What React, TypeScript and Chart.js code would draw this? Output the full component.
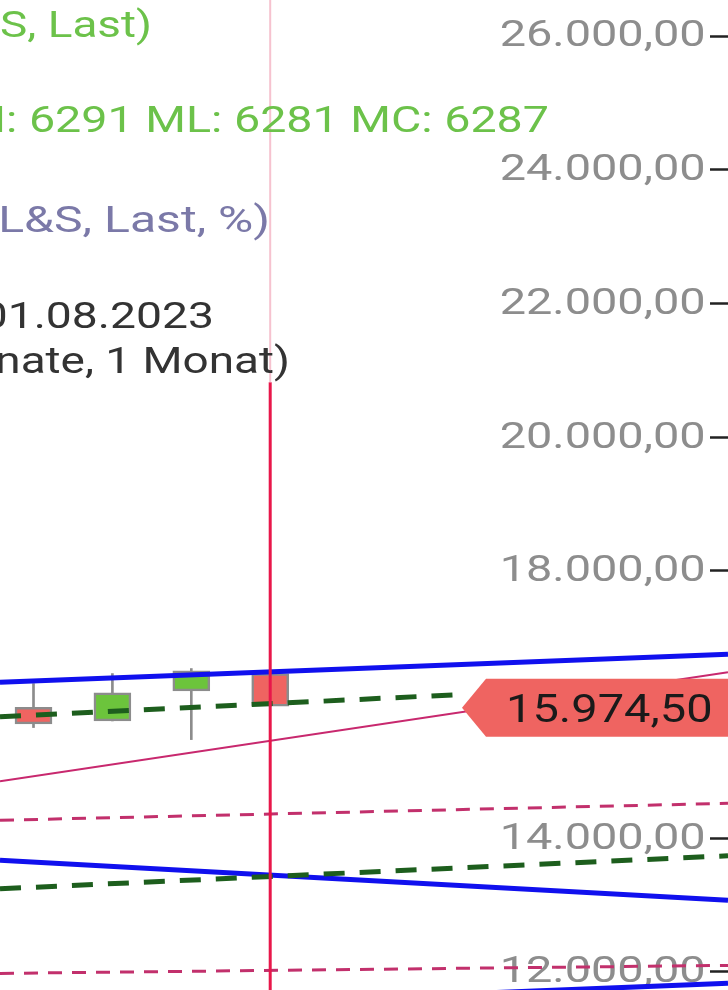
import React, { useEffect, useRef } from "react";
import { Chart, registerables } from "chart.js";

Chart.register(...registerables);

// ---- data (candle index on x, price on y) ----
const CANDLE_X = [0, 1, 2, 3];
const CANDLE_OPEN = [15960, 15755, 16204, 16464];
const CANDLE_HIGH = [16314, 16464, 16539, 16464];
const CANDLE_LOW = [15656, 15755, 15476, 15974.5];
const CANDLE_CLOSE = [15711, 16174, 16503, 15974.5];
const LAST_PRICE = 15974.5;

const X_VIEW = [-0.4246, 8.574];
const LINE_X = [-0.4246, 8.802];
const GREEN_DASH_UPPER_X = [-0.4246, 5.469];

const BLUE_UPPER = [16334, 16753];
const BLUE_MIDDLE = [13670, 13072];
const BLUE_LOWER = [11400, 11830];
const GREEN_DASH_UPPER = [15817, 16154];
const GREEN_DASH_LOWER = [13245, 13739];
const PINK_LINE = [14852, 16483];
const PINK_DASH_UPPER = [14269, 14523];
const PINK_DASH_LOWER = [11979, 12099];

const CROSSHAIR_X = 3;
const CROSSHAIR_SPLIT = 20823;

const Y_VIEW = [11730.7, 26538.7];
const Y_TICKS = [12000, 14000, 16000, 18000, 20000, 22000, 24000, 26000];

const INFO_TEXTS = [
  "S, Last)",
  "H: 6291 ML: 6281 MC: 6287",
  "L&S, Last, %)",
  "01.08.2023",
  "nate, 1 Monat)",
];
const INFO_COLORS = ["#6cc24a", "#6cc24a", "#7b79a8", "#333333", "#333333"];
const INFO_RIGHT = [152, 549, 270, 214, 290];
const INFO_BASELINE = [37, 132, 232, 328, 373];
const INFO_STRETCH = [1.24, 1.26, 1.3, 1.25, 1.24];

// ---- helpers ----
function fmtDE(v: number): string {
  const [i, d] = v.toFixed(2).split(".");
  return i.replace(/\B(?=(\d{3})+(?!\d))/g, ".") + "," + d;
}

function seg(xs: number[], ys: number[]) {
  return xs.map((x, i) => ({ x, y: ys[i] }));
}

const RED = "#ef6461";
const GREEN = "#6cc43c";
const CANDLE_BORDER = "#8c8c8c";
const AXIS_STRETCH = 1.25;

// the screenshot is horizontally stretched; stretch the axis labels about the axis line
const stretchPlugin = {
  id: "stretch",
  beforeDraw(chart: any) {
    const ctx = chart.ctx as CanvasRenderingContext2D;
    const px = chart.chartArea.right;
    ctx.save();
    ctx.translate(px, 0);
    ctx.scale(AXIS_STRETCH, 1);
    ctx.translate(-px, 0);
  },
  beforeDatasetsDraw(chart: any) {
    chart.ctx.restore();
  },
};

const overlayPlugin = {
  id: "overlay",
  afterDatasetsDraw(chart: any) {
    const ctx = chart.ctx as CanvasRenderingContext2D;
    const y = chart.scales.y.getPixelForValue(LAST_PRICE) + 1.5;
    const w = chart.width;
    ctx.save();
    ctx.fillStyle = RED;
    ctx.beginPath();
    ctx.moveTo(462, y);
    ctx.lineTo(486, y - 29);
    ctx.lineTo(w, y - 29);
    ctx.lineTo(w, y + 29);
    ctx.lineTo(486, y + 29);
    ctx.closePath();
    ctx.fill();
    ctx.font = "39.5px Roboto";
    ctx.fillStyle = "#1a1a1a";
    ctx.textAlign = "left";
    ctx.textBaseline = "alphabetic";
    ctx.translate(506, y + 14.5);
    ctx.scale(1.19, 1);
    ctx.fillText(fmtDE(LAST_PRICE), 0, 0);
    ctx.restore();
  },
  afterDraw(chart: any) {
    const ctx = chart.ctx as CanvasRenderingContext2D;
    INFO_TEXTS.forEach((t, i) => {
      ctx.save();
      ctx.font = "37px Roboto";
      ctx.textAlign = "right";
      ctx.textBaseline = "alphabetic";
      ctx.fillStyle = INFO_COLORS[i];
      ctx.translate(INFO_RIGHT[i], INFO_BASELINE[i]);
      ctx.scale(INFO_STRETCH[i], 1);
      ctx.fillText(t, 0, 0);
      ctx.restore();
    });
  },
};

export default function App() {
  const ref = useRef<HTMLCanvasElement | null>(null);

  useEffect(() => {
    if (!ref.current) return;
    const lineDs = (label: string, xs: number[], ys: number[], color: string, width: number, dash: number[] = []) => ({
      type: "line" as const,
      label,
      data: seg(xs, ys),
      borderColor: color,
      borderWidth: width,
      borderDash: dash,
      pointRadius: 0,
      fill: false,
      clip: false as any,
      order: 1,
    });

    const chart = new Chart(ref.current, {
      type: "bar",
      data: {
        datasets: [
          {
            type: "bar",
            label: "wick",
            data: CANDLE_X.map((x, i) => ({ x, y: [CANDLE_LOW[i], CANDLE_HIGH[i]] })) as any,
            backgroundColor: CANDLE_BORDER,
            borderWidth: 0,
            barThickness: 2,
            grouped: false,
            order: 4,
          },
          {
            type: "bar",
            label: "body",
            data: CANDLE_X.map((x, i) => ({ x, y: [CANDLE_OPEN[i], CANDLE_CLOSE[i]] })) as any,
            backgroundColor: CANDLE_X.map((_, i) => (CANDLE_CLOSE[i] >= CANDLE_OPEN[i] ? GREEN : RED)),
            borderColor: CANDLE_BORDER,
            borderWidth: 2.5,
            borderSkipped: false,
            barThickness: 37,
            grouped: false,
            order: 3,
          },
          lineDs("pinkDashLower", LINE_X, PINK_DASH_LOWER, "#c2306c", 3, [14, 10]) as any,
          lineDs("pinkDashUpper", LINE_X, PINK_DASH_UPPER, "#c2306c", 3, [14, 10]) as any,
          lineDs("pinkLine", LINE_X, PINK_LINE, "#c8286e", 2) as any,
          lineDs("greenDashLower", LINE_X, GREEN_DASH_LOWER, "#1d5e1d", 5, [21, 15]) as any,
          lineDs("greenDashUpper", GREEN_DASH_UPPER_X, GREEN_DASH_UPPER, "#1d5e1d", 5, [21, 15]) as any,
          lineDs("blueUpper", LINE_X, BLUE_UPPER, "#1010ee", 5) as any,
          lineDs("blueMiddle", LINE_X, BLUE_MIDDLE, "#1010ee", 5) as any,
          lineDs("blueLower", LINE_X, BLUE_LOWER, "#1010ee", 5) as any,
          {
            ...(lineDs("crossTop", [CROSSHAIR_X, CROSSHAIR_X], [Y_VIEW[1], CROSSHAIR_SPLIT], "#f6c2cf", 2) as any),
            order: 0,
          },
          {
            ...(lineDs("crossBottom", [CROSSHAIR_X, CROSSHAIR_X], [CROSSHAIR_SPLIT, Y_VIEW[0]], "#e8174a", 3) as any),
            order: 0,
          },
        ],
      },
      options: {
        animation: false,
        responsive: false,
        maintainAspectRatio: false,
        layout: { padding: 0 },
        plugins: { legend: { display: false }, tooltip: { enabled: false } },
        scales: {
          x: {
            type: "linear",
            min: X_VIEW[0],
            max: X_VIEW[1],
            offset: false,
            display: false,
          },
          y: {
            type: "linear",
            position: "right",
            min: Y_VIEW[0],
            max: Y_VIEW[1],
            afterBuildTicks: (axis: any) => {
              axis.ticks = Y_TICKS.map((v) => ({ value: v }));
            },
            afterFit: (axis: any) => {
              axis.width = 18;
              axis.paddingTop = 0;
              axis.paddingBottom = 0;
            },
            border: { display: false },
            grid: {
              display: true,
              drawOnChartArea: false,
              drawTicks: true,
              tickLength: 15,
              tickColor: "#222222",
              tickWidth: 2.5,
            },
            ticks: {
              mirror: true,
              padding: -3.5,
              color: "#8d8d8d",
              font: { family: "Roboto", size: 37.5 },
              labelOffset: 1,
              callback: (v: any) => fmtDE(Number(v)),
            },
          },
        },
      },
      plugins: [stretchPlugin, overlayPlugin],
    });
    return () => chart.destroy();
  }, []);

  return (
    <div style={{ position: "absolute", left: 0, top: 0, width: 728, height: 990, background: "#ffffff" }}>
      <canvas ref={ref} width={728} height={990} style={{ display: "block", width: 728, height: 990 }} />
    </div>
  );
}
